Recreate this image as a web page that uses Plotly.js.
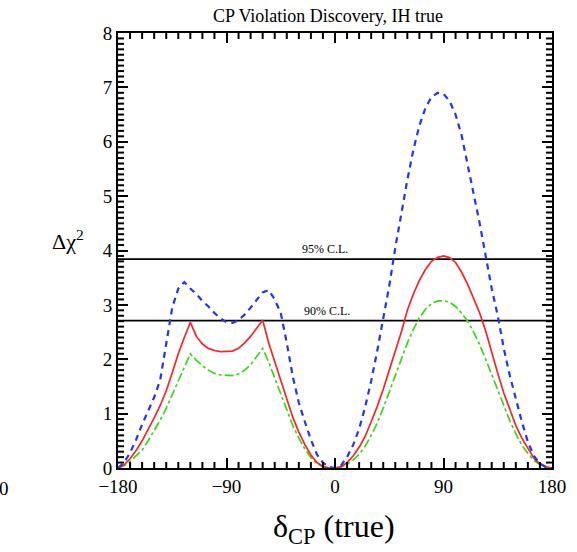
<!DOCTYPE html>
<html>
<head>
<meta charset="utf-8">
<script src="https://cdn.plot.ly/plotly-3.0.1.min.js"></script>
<style>html,body{margin:0;padding:0;background:#fff;}#plot{width:577px;height:552px;}</style>
</head>
<body>
<div id="plot"></div>
<script>
const deltaCP = [-180,-175,-170,-165,-160,-155,-150,-145,-140,-135,-130,-125,-120,-115,-110,-105,-100,-95,-90,-85,-80,-75,-70,-65,-60,-55,-50,-45,-40,-35,-30,-25,-20,-15,-10,-5,0,5,10,15,20,25,30,35,40,45,50,55,60,65,70,75,80,85,90,95,100,105,110,115,120,125,130,135,140,145,150,155,160,165,170,175,180];

const redChi2 = [0,0.06,0.17,0.32,0.5,0.7,0.92,1.15,1.42,1.75,2.1,2.4,2.68,2.42,2.28,2.2,2.16,2.14,2.14,2.15,2.2,2.3,2.42,2.58,2.72,2.3,1.95,1.6,1.25,0.93,0.66,0.43,0.24,0.1,0.03,0.0,0,0.02,0.1,0.22,0.38,0.58,0.85,1.13,1.45,1.8,2.15,2.5,2.9,3.2,3.45,3.65,3.8,3.87,3.9,3.87,3.78,3.6,3.38,3.12,2.85,2.52,2.12,1.74,1.38,1.06,0.78,0.55,0.36,0.18,0.07,0.02,0];

const blueChi2 = [0,0.1,0.28,0.52,0.8,1.05,1.3,1.62,2.25,2.95,3.3,3.42,3.3,3.2,3.07,2.97,2.85,2.75,2.68,2.67,2.72,2.82,2.95,3.1,3.23,3.27,3.1,2.85,2.3,1.68,1.2,0.85,0.52,0.25,0.1,0.02,0,0.05,0.2,0.42,0.72,1.12,1.6,2.15,2.75,3.35,4.05,4.7,5.3,5.85,6.3,6.62,6.82,6.9,6.88,6.75,6.5,6.12,5.6,5.05,4.5,3.9,3.3,2.8,2.2,1.7,1.25,0.85,0.48,0.22,0.08,0.02,0];

const greenChi2 = [0,0.04,0.12,0.22,0.33,0.5,0.68,0.88,1.1,1.35,1.6,1.85,2.1,1.98,1.88,1.8,1.74,1.71,1.7,1.7,1.73,1.8,1.9,2.05,2.2,1.95,1.65,1.35,1.05,0.78,0.55,0.35,0.19,0.08,0.02,0,0,0.02,0.07,0.15,0.25,0.4,0.6,0.83,1.1,1.4,1.7,2.0,2.3,2.55,2.76,2.92,3.02,3.07,3.08,3.05,2.97,2.85,2.7,2.5,2.27,2.0,1.72,1.42,1.13,0.87,0.63,0.42,0.27,0.14,0.06,0.01,0];

const clLevels = [3.84, 2.71];
const clLabels = ["95% C.L.", "90% C.L."];
const xRange = [-180, 180];
const yRange = [0, 8];
const xMajorStep = 90, xMinorStep = 10;
const yMajorStep = 1, yMinorStep = 0.1;

const serif = "Liberation Serif, Times New Roman, serif";

const traces = [];
clLevels.forEach(function(v){
  traces.push({x: xRange, y: [v, v], mode: 'lines', line: {color: '#000', width: 1.8}, hoverinfo: 'skip', showlegend: false});
});
traces.push({x: deltaCP, y: greenChi2, mode: 'lines', line: {color: '#33dd11', width: 1.7, dash: 'dashdot'}, showlegend: false});
traces.push({x: deltaCP, y: redChi2, mode: 'lines', line: {color: '#ff2222', width: 1.7}, showlegend: false});
traces.push({x: deltaCP, y: blueChi2, mode: 'lines', line: {color: '#2233ff', width: 2.2, dash: '6px,5px'}, showlegend: false});

// minor tick marks (axis decoration), generated from the axis ranges
const minorLen = 6;
const tickStyle = {color: '#000', width: 2};
const shapes = [];
for (let i = 1; i < (xRange[1]-xRange[0])/xMinorStep; i++) {
  if (i % (xMajorStep/xMinorStep) === 0) continue;
  const xv = xRange[0] + i*xMinorStep;
  shapes.push({type: 'line', layer: 'above', xref: 'x', yref: 'paper', ysizemode: 'pixel', yanchor: 0, x0: xv, x1: xv, y0: 0, y1: minorLen, line: tickStyle});
  shapes.push({type: 'line', layer: 'above', xref: 'x', yref: 'paper', ysizemode: 'pixel', yanchor: 1, x0: xv, x1: xv, y0: 0, y1: -minorLen, line: tickStyle});
}
const nY = Math.round((yRange[1]-yRange[0])/yMinorStep);
for (let i = 1; i < nY; i++) {
  if (i % Math.round(yMajorStep/yMinorStep) === 0) continue;
  const yv = yRange[0] + i*yMinorStep;
  shapes.push({type: 'line', layer: 'above', xref: 'paper', yref: 'y', xsizemode: 'pixel', xanchor: 0, x0: 0, x1: minorLen, y0: yv, y1: yv, line: tickStyle});
  shapes.push({type: 'line', layer: 'above', xref: 'paper', yref: 'y', xsizemode: 'pixel', xanchor: 1, x0: 0, x1: -minorLen, y0: yv, y1: yv, line: tickStyle});
}

const annotations = [
  {xref: 'paper', yref: 'y', x: (-8+180)/360, y: clLevels[0], text: clLabels[0], showarrow: false, xanchor: 'center', yanchor: 'bottom', yshift: 1, font: {family: serif, size: 12, color: '#000'}},
  {xref: 'paper', yref: 'y', x: (-7+180)/360, y: clLevels[1], text: clLabels[1], showarrow: false, xanchor: 'center', yanchor: 'bottom', yshift: 1, font: {family: serif, size: 12, color: '#000'}},
  {xref: 'paper', yref: 'paper', x: (68-118)/434, y: (468-240)/435, text: '\u0394\u03c7<sup>2</sup>', showarrow: false, xanchor: 'center', yanchor: 'middle', font: {family: serif, size: 22, color: '#000'}},
  {xref: 'paper', yref: 'paper', x: (334-118)/434, y: -(528-468)/435, text: '\u03b4<sub>CP</sub> (true)', showarrow: false, xanchor: 'center', yanchor: 'middle', font: {family: serif, size: 32, color: '#000'}},
  {xref: 'paper', yref: 'paper', x: (4-118)/434, y: -(488-468)/435, text: '0', showarrow: false, xanchor: 'center', yanchor: 'middle', font: {family: serif, size: 19, color: '#000'}}
];

const axisCommon = {
  tickmode: 'linear',
  ticks: 'inside', ticklen: 10, tickwidth: 2, tickcolor: '#000',
  showline: true, linecolor: '#000', linewidth: 2, mirror: 'allticks',
  showgrid: false, zeroline: false,
  tickfont: {family: serif, size: 19, color: '#000'}
};

const layout = {
  width: 577, height: 552,
  margin: {l: 118, r: 25, t: 33, b: 84},
  paper_bgcolor: '#fff', plot_bgcolor: '#fff',
  title: {text: 'CP Violation Discovery, IH true', font: {family: serif, size: 18, color: '#000'}, x: (328)/577, xref: 'container', xanchor: 'center', y: 1 - 16/552, yanchor: 'middle'},
  xaxis: Object.assign({}, axisCommon, {range: xRange, tick0: xRange[0], dtick: xMajorStep}),
  yaxis: Object.assign({}, axisCommon, {range: yRange, tick0: yRange[0], dtick: yMajorStep}),
  shapes: shapes,
  annotations: annotations
};

Plotly.newPlot('plot', traces, layout, {displayModeBar: false, staticPlot: true});
</script>
</body>
</html>
